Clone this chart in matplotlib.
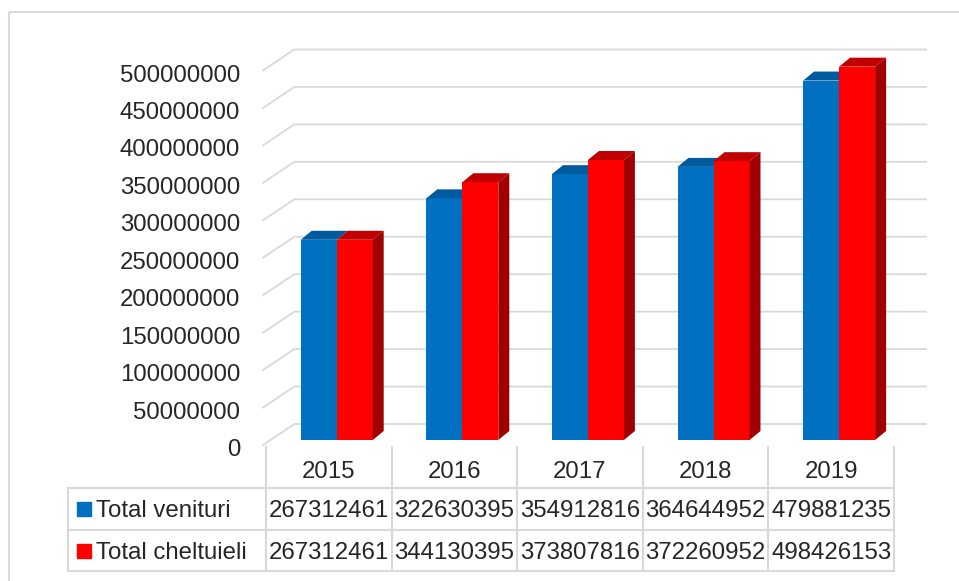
import numpy as np
import matplotlib.pyplot as plt
from matplotlib.patches import Polygon, Rectangle

# data
years = ['2015', '2016', '2017', '2018', '2019']
venituri = [267312461, 322630395, 354912816, 364644952, 479881235]
cheltuieli = [267312461, 344130395, 373807816, 372260952, 498426153]
series_names = ['Total venituri', 'Total cheltuieli']
y_ticks = np.arange(0, 500000001, 50000000)

# config
W, H = 959, 581
BLUE, BLUE_TOP = '#0070C0', '#005A9E'
RED, RED_TOP, RED_SIDE = '#FF0000', '#C00000', '#A00000'
GRID = '#D9D9D9'
TEXT = '#262626'
FONT = 'Liberation Sans'
FS = 17.3
TXT_DY = 3      # va='center' sits a little high for digits

# pixel geometry of the fake 3D plot
X0 = 266        # left edge of first category (px)
CAT = 125.6     # width of one category (px)
Y0 = 440        # bar base row (px)
K = 0.749e-6    # px per unit of value


def px2x(px):
    return (px - X0) / CAT - 0.5


def px2v(py):
    return (Y0 - py) / K


fig = plt.figure(figsize=(W / 100, H / 100), dpi=100)

# main plot axes, pixel rect 240..940 x 30..452
ax = fig.add_axes([240 / W, 1 - 452 / H, 700 / W, 422 / H])
ax.set_xlim(px2x(240), px2x(940))
ax.set_ylim(px2v(452), px2v(30))
ax.axis('off')

# gridlines: front end, slant back, then along the back wall
front_dv = px2v(445)
back_dv = px2v(424)
xf, xb, xe = px2x(263), px2x(294.3), px2x(926)
for v in y_ticks:
    ax.plot([xf, xb, xe], [v + front_dv, v + back_dv, v + back_dv],
            color=GRID, lw=1.3, zorder=1, clip_on=False)
    ax.text(px2x(240), v + px2v(447 + TXT_DY), str(v), ha='right', va='center',
            fontsize=FS, family=FONT, color=TEXT)

# bars
x = np.arange(len(years))
bw = 36 / CAT
ddx = 11 / CAT
ddv = 9 / K
xb_blue = x - 10.1 / CAT
xb_red = x + 25.9 / CAT
ax.bar(xb_blue, venituri, bw, color=BLUE, zorder=2)
ax.bar(xb_red, cheltuieli, bw, color=RED, zorder=4)

for xc, v in zip(xb_blue, venituri):
    l, r = xc - bw / 2, xc + bw / 2
    ax.add_patch(Polygon([(l, v), (r, v), (r + ddx, v + ddv), (l + ddx, v + ddv)],
                         closed=True, color=BLUE_TOP, zorder=3, lw=0))
for xc, v in zip(xb_red, cheltuieli):
    l, r = xc - bw / 2, xc + bw / 2
    ax.add_patch(Polygon([(l, v), (r, v), (r + ddx, v + ddv), (l + ddx, v + ddv)],
                         closed=True, color=RED_TOP, zorder=5, lw=0))
    ax.add_patch(Polygon([(r, 0), (r, v), (r + ddx, v + ddv), (r + ddx, ddv)],
                         closed=True, color=RED_SIDE, zorder=5, lw=0))

# data table + frame, drawn in pixel space
tab = fig.add_axes([0, 0, 1, 1])
tab.set_xlim(0, W)
tab.set_ylim(H, 0)
tab.axis('off')

edges = X0 + CAT * np.arange(len(years) + 1)
centers = edges[:-1] + CAT / 2
row_lines = [488, 529.7, 571.4]
left = 68

for xe_ in edges:
    tab.plot([xe_, xe_], [447, row_lines[-1]], color=GRID, lw=1.5)
tab.plot([left, left], [row_lines[0], row_lines[-1]], color=GRID, lw=1.5)
for yl in row_lines:
    tab.plot([left, edges[-1]], [yl, yl], color=GRID, lw=1.5)

for c, yr in zip(centers, years):
    tab.text(c, 469 + TXT_DY, yr, ha='center', va='center', fontsize=FS,
             family=FONT, color=TEXT)

rows = [venituri, cheltuieli]
keys = [BLUE, RED]
for i, (name, vals, col) in enumerate(zip(series_names, rows, keys)):
    yc = (row_lines[i] + row_lines[i + 1]) / 2
    tab.add_patch(Rectangle((77, yc - 7), 14, 14, color=col))
    tab.text(96.5, yc + TXT_DY - 1, name, ha='left', va='center', fontsize=FS,
             family=FONT, color=TEXT)
    for c, v in zip(centers, vals):
        tab.text(c, yc + TXT_DY - 1, str(v), ha='center', va='center', fontsize=FS,
                 family=FONT, color=TEXT)

# chart area border (runs off the right and bottom)
tab.add_patch(Rectangle((9, 12), 1000, 700, fill=False, ec=GRID, lw=1.5))

fig.savefig('out.png', dpi=100)
